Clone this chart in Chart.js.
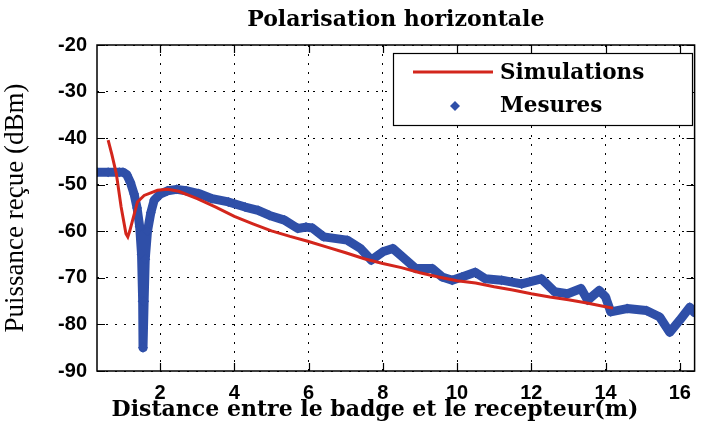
<!DOCTYPE html>
<html>
<head>
<meta charset="utf-8">
<script src="https://cdn.jsdelivr.net/npm/chart.js@4.4.0/dist/chart.umd.min.js"></script>
<style>
  body { margin: 0; background: #fff; }
</style>
</head>
<body>
<canvas id="power_chart" width="701" height="432"></canvas>
<script>
// Simulated received power (dBm) vs distance (m)
var simDistance = [0.6, 0.7, 0.82, 0.95, 1.08, 1.13, 1.18, 1.26, 1.39, 1.57, 1.93, 2.2, 2.5, 3.0, 3.5, 4.0, 4.5, 5.0, 5.5, 6.0, 6.5, 7.0, 7.5, 8.0, 8.5, 9.0, 9.5, 10.0, 10.5, 11.0, 11.5, 12.0, 12.5, 13.0, 13.5, 14.0, 14.2];
var simPower = [-40.4, -43.5, -47.6, -54.8, -60.5, -61.2, -60.0, -57.6, -53.7, -52.3, -51.2, -51.0, -51.4, -53.0, -54.8, -56.8, -58.4, -59.9, -61.1, -62.2, -63.4, -64.6, -65.9, -66.9, -67.8, -68.9, -69.8, -70.6, -71.1, -71.9, -72.6, -73.4, -74.1, -74.7, -75.4, -76.2, -76.5];

// Measured received power (dBm) vs distance (m)
var mesDistance = [0.3, 0.6, 0.9, 1.0, 1.1, 1.2, 1.3, 1.38, 1.45, 1.5, 1.53, 1.54, 1.57, 1.6, 1.66, 1.75, 1.84, 2.0, 2.2, 2.45, 2.7, 3.04, 3.4, 3.84, 4.29, 4.64, 4.95, 5.35, 5.71, 5.93, 6.1, 6.41, 7.04, 7.4, 7.69, 8.0, 8.27, 8.53, 8.89, 9.33, 9.6, 9.87, 10.13, 10.49, 10.76, 11.2, 11.74, 12.27, 12.63, 12.98, 13.34, 13.52, 13.83, 14.0, 14.14, 14.58, 15.1, 15.46, 15.73, 16.0, 16.27, 16.4];
var mesPower = [-47.3, -47.3, -47.3, -47.3, -47.8, -49.5, -52.0, -55.0, -59.0, -65.0, -75.0, -85.0, -75.0, -66.0, -60.0, -56.0, -53.3, -52.0, -51.3, -51.0, -51.3, -51.9, -53.0, -53.7, -54.8, -55.5, -56.6, -57.6, -59.4, -59.1, -59.3, -61.2, -61.9, -63.7, -66.2, -64.4, -63.7, -65.5, -68.0, -68.0, -69.8, -70.5, -69.8, -68.8, -70.2, -70.5, -71.3, -70.2, -73.0, -73.4, -72.3, -74.8, -72.7, -74.1, -77.3, -76.6, -77.0, -78.4, -81.7, -79.1, -76.3, -77.5];

var xTicks = [2, 4, 6, 8, 10, 12, 14, 16];
var yTicks = [-90, -80, -70, -60, -50, -40, -30, -20];

var RED = '#d3261c';
var BLUE = '#2f4fa8';
var SERIF_BOLD = '"DejaVu Serif", serif';

function toPoints(xs, ys) {
    return xs.map(function(x, i) { return {x: x, y: ys[i]}; });
}

// matlab-like box: frame, inward ticks on every side, title, x label, legend
var boxPlugin = {
    id: 'box',
    afterDraw: function(chart) {
        var ctx = chart.ctx, a = chart.chartArea;
        var xs = chart.scales.x, ys = chart.scales.y;
        ctx.save();
        ctx.strokeStyle = '#000';
        ctx.lineWidth = 1.5;
        ctx.strokeRect(a.left, a.top, a.right - a.left, a.bottom - a.top);

        ctx.lineWidth = 1.2;
        ctx.beginPath();
        xTicks.forEach(function(v) {
            var px = Math.round(xs.getPixelForValue(v)) + 0.5;
            ctx.moveTo(px, a.bottom); ctx.lineTo(px, a.bottom - 8);
            ctx.moveTo(px, a.top); ctx.lineTo(px, a.top + 8);
        });
        yTicks.forEach(function(v) {
            var py = Math.round(ys.getPixelForValue(v)) + 0.5;
            ctx.moveTo(a.left, py); ctx.lineTo(a.left + 8, py);
            ctx.moveTo(a.right, py); ctx.lineTo(a.right - 8, py);
        });
        ctx.stroke();

        ctx.fillStyle = '#000';
        ctx.textAlign = 'center';
        ctx.textBaseline = 'middle';
        ctx.font = 'bold 22px ' + SERIF_BOLD;
        ctx.fillText('Polarisation horizontale', (a.left + a.right) / 2, 20);
        ctx.fillText('Distance entre le badge et le recepteur(m)', a.left + 278, 410);

        // legend
        var lx = 393.5, ly = 53.5, lw = 299, lh = 72;
        ctx.fillStyle = '#fff';
        ctx.fillRect(lx, ly, lw, lh);
        ctx.strokeStyle = '#000';
        ctx.lineWidth = 1.2;
        ctx.strokeRect(lx, ly, lw, lh);

        ctx.strokeStyle = RED;
        ctx.lineWidth = 3;
        ctx.beginPath();
        ctx.moveTo(413, 72); ctx.lineTo(493, 72);
        ctx.stroke();

        ctx.fillStyle = BLUE;
        ctx.beginPath();
        ctx.moveTo(455, 101); ctx.lineTo(460, 106); ctx.lineTo(455, 111); ctx.lineTo(450, 106);
        ctx.closePath();
        ctx.fill();

        ctx.fillStyle = '#000';
        ctx.textAlign = 'left';
        ctx.font = 'bold 21.5px ' + SERIF_BOLD;
        ctx.fillText('Simulations', 500, 73);
        ctx.fillText('Mesures', 500, 106);
        ctx.restore();
    }
};

var ctx = document.getElementById('power_chart').getContext('2d');
var powerChart = new Chart(ctx, {
    type: 'line',
    data: {
        datasets: [
            {
                label: 'Simulations',
                data: toPoints(simDistance, simPower),
                borderColor: RED,
                borderWidth: 3,
                pointRadius: 0,
                fill: false,
                tension: 0
            },
            {
                label: 'Mesures',
                data: toPoints(mesDistance, mesPower),
                borderColor: BLUE,
                backgroundColor: BLUE,
                borderWidth: 9,
                borderJoinStyle: 'round',
                borderCapStyle: 'round',
                pointStyle: 'rectRot',
                pointRadius: 5,
                pointBorderWidth: 0,
                fill: false,
                tension: 0
            }
        ]
    },
    options: {
        responsive: false,
        animation: false,
        layout: {
            padding: {left: 0, right: 1, top: 45, bottom: 0}
        },
        plugins: {
            legend: {display: false},
            title: {display: false},
            tooltip: {enabled: false}
        },
        scales: {
            x: {
                type: 'linear',
                min: 0.3,
                max: 16.4,
                afterBuildTicks: function(scale) {
                    scale.ticks = xTicks.map(function(v) { return {value: v}; });
                },
                afterFit: function(scale) { scale.height = 61; },
                ticks: {
                    color: '#000',
                    padding: 10,
                    maxRotation: 0,
                    font: {family: '"Liberation Sans", Arial', size: 20, weight: 'bold'}
                },
                grid: {color: '#000', lineWidth: 1, drawTicks: false},
                border: {display: false, dash: [2, 7]}
            },
            y: {
                min: -90,
                max: -20,
                afterBuildTicks: function(scale) {
                    scale.ticks = yTicks.map(function(v) { return {value: v}; });
                },
                afterFit: function(scale) { scale.width = 97; },
                ticks: {
                    color: '#000',
                    padding: 10,
                    font: {family: '"Liberation Sans", Arial', size: 20, weight: 'bold'}
                },
                grid: {color: '#000', lineWidth: 1, drawTicks: false},
                border: {display: false, dash: [2, 7]},
                title: {
                    display: true,
                    text: 'Puissance reçue (dBm)',
                    color: '#000',
                    padding: {top: 0, bottom: 0},
                    font: {family: '"Liberation Serif", "Times New Roman", serif', size: 27}
                }
            }
        }
    },
    plugins: [boxPlugin]
});
</script>
</body>
</html>
